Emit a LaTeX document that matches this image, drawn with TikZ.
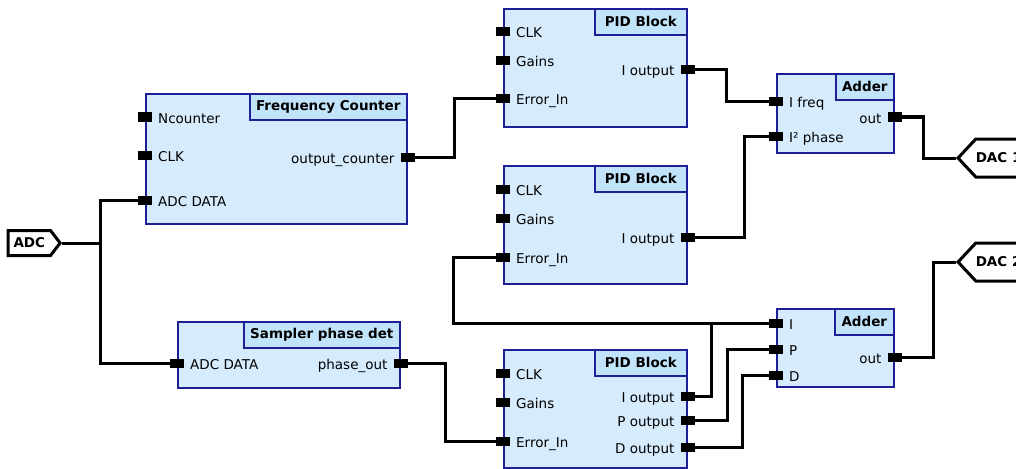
\documentclass[tikz,border=0pt]{standalone}
\usepackage{fontspec}
\setmainfont{DejaVu Sans}
\usetikzlibrary{positioning,shapes.symbols}
\definecolor{blockfill}{RGB}{214,236,252}
\definecolor{titlefill}{RGB}{194,228,251}
\definecolor{blockline}{RGB}{30,30,150}
\tikzset{
	block/.style={
		draw=blockline, fill=blockfill, line width=1.6pt,
		rectangle, anchor=north west, inner sep=0pt
	},
	blocktitle/.style={
		draw=blockline, fill=titlefill, line width=1.6pt,
		rectangle, anchor=north east, minimum height=26pt,
		inner sep=0pt, font=\fontsize{13.5}{16}\selectfont\bfseries
	},
	port/.style={fill=black, rectangle, minimum width=14pt, minimum height=9pt, inner sep=0pt},
	inlabel/.style={anchor=base west, inner sep=0pt, xshift=13pt, yshift=-6pt},
	outlabel/.style={anchor=base east, inner sep=0pt, xshift=-13pt, yshift=-6pt},
	wire/.style={line width=3pt},
	tag/.style={
		signal, draw, fill=white, line width=3pt, inner sep=0pt,
		font=\fontsize{13.5}{16}\selectfont\bfseries
	}
}

\begin{document}
\begin{tikzpicture}[x=1pt,y=-1pt,every node/.style={font=\fontsize{13.5}{16}\selectfont}]
	\clip (0,0) rectangle (1016,468);
	% blocks
	\node[block, minimum width=261pt, minimum height=130pt] (fc) at (145,93) {};
	\node[blocktitle, minimum width=157pt] (fcT) at (fc.north east) {Frequency Counter};
	\node[block, minimum width=222pt, minimum height=66pt] (sp) at (177,321) {};
	\node[blocktitle, minimum width=156pt] (spT) at (sp.north east) {Sampler phase det};
	\node[block, minimum width=183pt, minimum height=118pt] (pa) at (503,8) {};
	\node[blocktitle, minimum width=92pt] (paT) at (pa.north east) {PID Block};
	\node[block, minimum width=183pt, minimum height=118pt] (pb) at (503,165) {};
	\node[blocktitle, minimum width=92pt] (pbT) at (pb.north east) {PID Block};
	\node[block, minimum width=183pt, minimum height=118pt] (pc) at (503,349) {};
	\node[blocktitle, minimum width=92pt] (pcT) at (pc.north east) {PID Block};
	\node[block, minimum width=117pt, minimum height=79pt] (aa) at (776,73) {};
	\node[blocktitle, minimum width=58pt] (aaT) at (aa.north east) {Adder};
	\node[block, minimum width=117pt, minimum height=78pt] (ab) at (776,308) {};
	\node[blocktitle, minimum width=59pt] (abT) at (ab.north east) {Adder};

	% tags
	\node[tag, signal to=east, signal pointer angle=105, minimum width=52pt, minimum height=25pt, anchor=east] (adc) at (62,243) {ADC};
	\node[tag, signal to=west, signal pointer angle=94, minimum width=53pt, minimum height=38pt, anchor=west] (dacA) at (956,158) {DAC 1};
	\node[tag, signal to=west, signal pointer angle=94, minimum width=53pt, minimum height=38pt, anchor=west] (dacB) at (956,262) {DAC 2};

	% ports
	\node[port] (fcN) at (fc.west |- 0,117) {};
	\node[port] (fcC) at (fc.west |- 0,155) {};
	\node[port] (fcD) at (fc.west |- 0,200) {};
	\node[port] (fcO) at (fc.east |- 0,157) {};
	\node[port] (spD) at (sp.west |- 0,363) {};
	\node[port] (spO) at (sp.east |- 0,363) {};
	\node[port] (paC) at (pa.west |- 0,32) {};
	\node[port] (paG) at (pa.west |- 0,61) {};
	\node[port] (paE) at (pa.west |- 0,99) {};
	\node[port] (paI) at (pa.east |- 0,70) {};
	\node[port] (pbC) at (pb.west |- 0,189) {};
	\node[port] (pbG) at (pb.west |- 0,218) {};
	\node[port] (pbE) at (pb.west |- 0,257) {};
	\node[port] (pbI) at (pb.east |- 0,237) {};
	\node[port] (pcC) at (pc.west |- 0,373) {};
	\node[port] (pcG) at (pc.west |- 0,402) {};
	\node[port] (pcE) at (pc.west |- 0,441) {};
	\node[port] (pcI) at (pc.east |- 0,396) {};
	\node[port] (pcP) at (pc.east |- 0,420) {};
	\node[port] (pcD) at (pc.east |- 0,447) {};
	\node[port] (aaF) at (aa.west |- 0,102) {};
	\node[port] (aaP) at (aa.west |- 0,136) {};
	\node[port] (aaO) at (aa.east |- 0,117) {};
	\node[port] (abI) at (ab.west |- 0,323) {};
	\node[port] (abP) at (ab.west |- 0,349) {};
	\node[port] (abD) at (ab.west |- 0,375) {};
	\node[port] (abO) at (ab.east |- 0,357) {};

	% port labels
	\node[inlabel] at (fcN) {Ncounter};
	\node[inlabel] at (fcC) {CLK};
	\node[inlabel] at (fcD) {ADC DATA};
	\node[outlabel] at (fcO) {output\_counter};
	\node[inlabel] at (spD) {ADC DATA};
	\node[outlabel] at (spO) {phase\_out};
	\node[inlabel] at (paC) {CLK};
	\node[inlabel] at (paG) {Gains};
	\node[inlabel] at (paE) {Error\_In};
	\node[outlabel] at (paI) {I output};
	\node[inlabel] at (pbC) {CLK};
	\node[inlabel] at (pbG) {Gains};
	\node[inlabel] at (pbE) {Error\_In};
	\node[outlabel] at (pbI) {I output};
	\node[inlabel] at (pcC) {CLK};
	\node[inlabel] at (pcG) {Gains};
	\node[inlabel] at (pcE) {Error\_In};
	\node[outlabel] at (pcI) {I output};
	\node[outlabel] at (pcP) {P output};
	\node[outlabel] at (pcD) {D output};
	\node[inlabel] at (aaF) {I freq};
	\node[inlabel] at (aaP) {I² phase};
	\node[outlabel] at (aaO) {out};
	\node[inlabel] at (abI) {I};
	\node[inlabel] at (abP) {P};
	\node[inlabel] at (abD) {D};
	\node[outlabel] at (abO) {out};

	% wires
	\coordinate (split) at (adc.east -| 100,0);
	\draw[wire] (adc.east) -- (split);
	\draw[wire] (fcD) -| (split);
	\draw[wire] (spD) -| (split);
	\draw[wire] (fcO) -- (fcO -| 454,0) |- (paE);
	\draw[wire] (spO) -- (spO -| 445,0) |- (pcE);
	\draw[wire] (paI) -- (paI -| 726,0) |- (aaF);
	\draw[wire] (pbI) -- (pbI -| 744,0) |- (aaP);
	\draw[wire] (pbE) -- (pbE -| 453,0) |- (abI);
	\draw[wire] (pcI) -| (abI -| 711,0);
	\draw[wire] (pcP) -- (pcP -| 727,0) |- (abP);
	\draw[wire] (pcD) -- (pcD -| 742,0) |- (abD);
	\draw[wire] (aaO) -- (aaO -| 923,0) |- (dacA.west);
	\draw[wire] (abO) -- (abO -| 933,0) |- (dacB.west);
\end{tikzpicture}
\end{document}
